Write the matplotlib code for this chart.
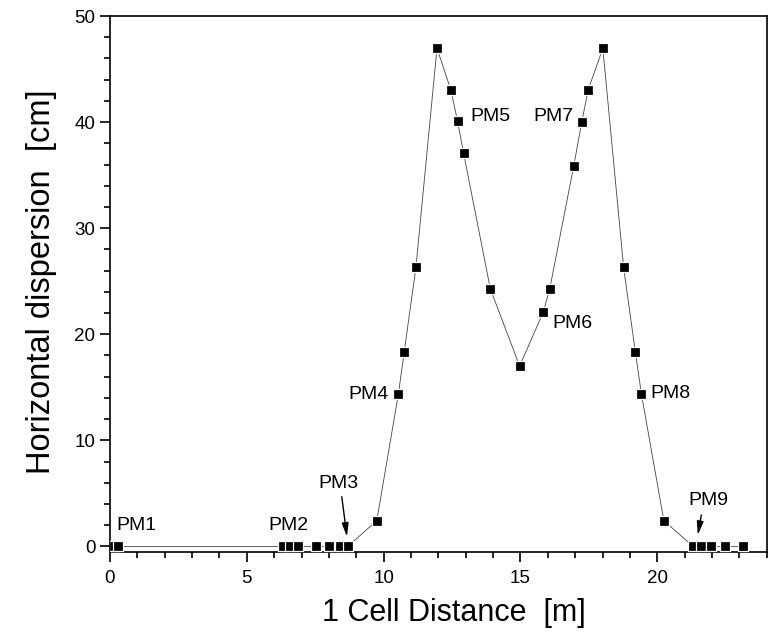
import matplotlib
matplotlib.use("Agg")
import matplotlib.pyplot as plt
from matplotlib.ticker import MultipleLocator

plt.rcParams['font.family'] = ['Liberation Sans', 'DejaVu Sans']

# Data
distance = [0.15, 0.30, 6.31, 6.58, 6.86, 7.53, 8.01, 8.39, 8.69, 9.75,
            10.54, 10.75, 11.18, 11.95, 12.46, 12.70, 12.92, 13.90, 14.97,
            15.83, 16.07, 16.95, 17.24, 17.47, 18.01, 18.77, 19.20, 19.42,
            20.24, 21.31, 21.60, 21.98, 22.46, 23.15]
dispersion = [0.0, 0.0, 0.0, 0.0, 0.0, 0.0, 0.0, 0.0, 0.0, 2.43,
              14.37, 18.3, 26.3, 46.96, 43.0, 40.1, 37.1, 24.27, 17.0,
              22.07, 24.27, 35.9, 40.0, 43.0, 46.96, 26.3, 18.3, 14.37,
              2.43, 0.0, 0.0, 0.0, 0.0, 0.0]

# Monitor labels
pm_labels = ["PM1", "PM2", "PM3", "PM4", "PM5", "PM6", "PM7", "PM8", "PM9"]
pm_x = [0.22, 5.78, 8.34, 10.18, 13.17, 16.15, 16.95, 19.73, 21.87]
pm_y = [1.98, 1.98, 5.95, 14.28, 40.57, 21.04, 40.5, 14.37, 4.34]
pm_ha = ["left", "left", "center", "right", "left", "left", "right", "left", "center"]

# Arrows (start -> end) for PM3 and PM9
arrow_start = [(8.47, 4.69), (21.61, 2.97)]
arrow_end = [(8.66, 0.92), (21.48, 1.08)]

fig = plt.figure(figsize=(7.8, 6.33), dpi=100)
ax = fig.add_axes([0.141, 0.1284, 0.842, 0.8463])

ax.plot(distance, dispersion, color='#444444', lw=0.6, marker='s',
        markersize=6.8, markerfacecolor='black', markeredgecolor='white',
        markeredgewidth=0.9, zorder=3)

for t, x, y, ha in zip(pm_labels, pm_x, pm_y, pm_ha):
    ax.text(x, y, t, ha=ha, va='center', fontsize=14, color='black', zorder=4)

for s, e in zip(arrow_start, arrow_end):
    ax.annotate('', xy=e, xytext=s,
                arrowprops=dict(arrowstyle='-|>,head_length=0.8,head_width=0.2',
                                color='black', lw=1.0, shrinkA=0, shrinkB=0))

ax.set_xlim(0, 24)
ax.set_ylim(-0.5, 50)
ax.xaxis.set_major_locator(MultipleLocator(5))
ax.xaxis.set_minor_locator(MultipleLocator(1))
ax.yaxis.set_major_locator(MultipleLocator(10))
ax.yaxis.set_minor_locator(MultipleLocator(2))

ax.tick_params(which='both', direction='out', top=False, right=False,
               labelsize=13.5, width=1.2, colors='black')
ax.tick_params(which='major', length=7.5)
ax.tick_params(which='minor', length=4)
ax.tick_params(axis='x', which='major', pad=6)
ax.tick_params(axis='y', which='major', pad=3)
for sp in ax.spines.values():
    sp.set_linewidth(1.2)

ax.set_xlabel('1 Cell Distance  [m]', fontsize=22)
ax.set_ylabel('Horizontal dispersion  [cm]', fontsize=23.5)
ax.xaxis.set_label_coords(0.524, -0.086)
ax.yaxis.set_label_coords(-0.081, 0.505)

fig.savefig('out.png', dpi=100)
